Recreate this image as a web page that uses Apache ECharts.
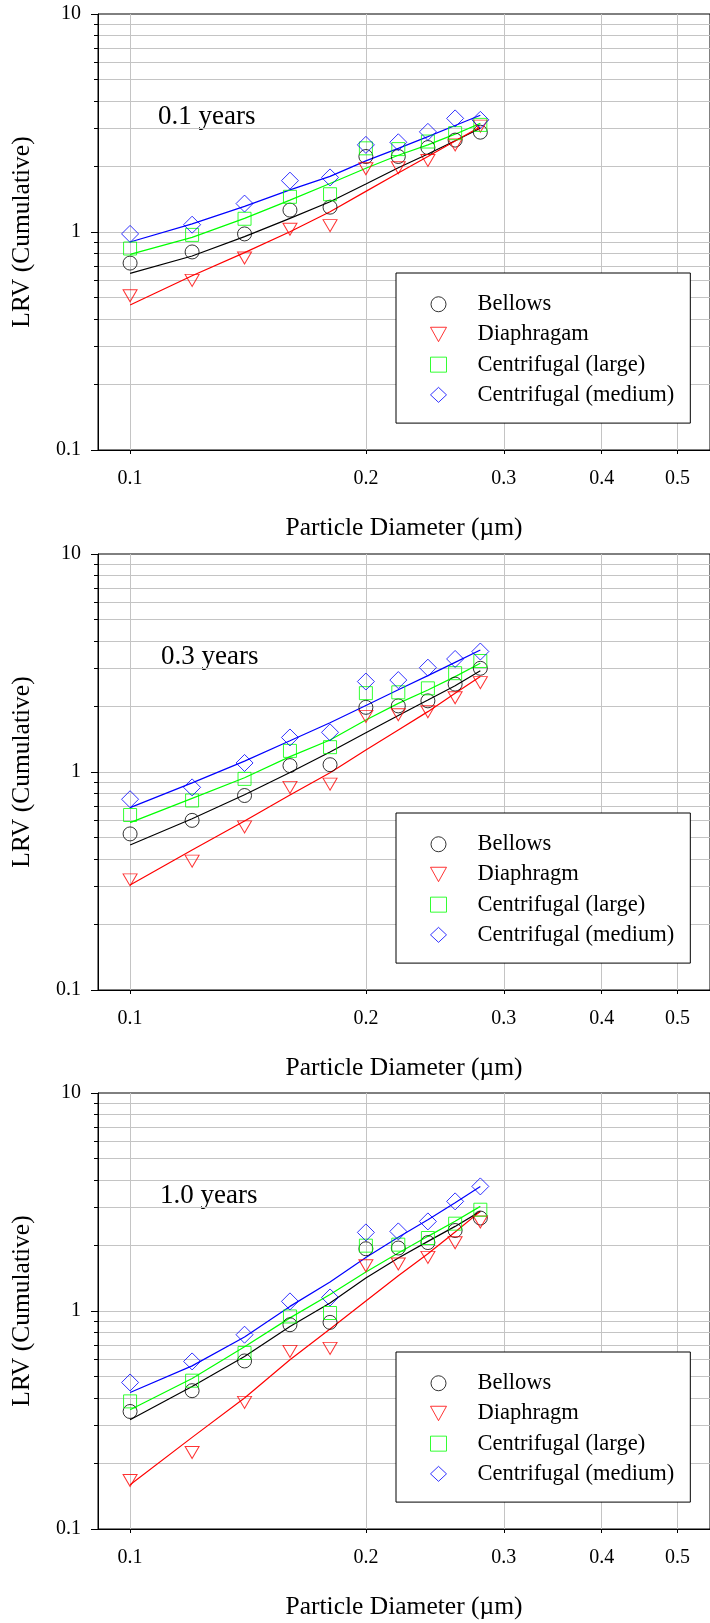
<!DOCTYPE html>
<html>
<head>
<meta charset="utf-8">
<script src="https://cdn.jsdelivr.net/npm/echarts@6/dist/echarts.min.js"></script>
<style>
  html, body { margin: 0; padding: 0; background: #ffffff; }
  #chart { width: 710px; height: 1623px; }
</style>
</head>
<body>
<div id="chart"></div>
<script>
// Particle diameters (µm) sampled in every panel
const diameters = [0.10, 0.12, 0.14, 0.16, 0.18, 0.20, 0.22, 0.24, 0.26, 0.28];

// Axis tick values
const xTickValues = [0.1, 0.2, 0.3, 0.4, 0.5];
const yMajorValues = [0.1, 1, 10];
const yGridValues = [0.2, 0.3, 0.4, 0.5, 0.6, 0.7, 0.8, 0.9, 1, 2, 3, 4, 5, 6, 7, 8, 9];

// Panel captions and legend entries
const panelLabels = ['0.1 years', '0.3 years', '1.0 years'];
const legendNames01 = ['Bellows', 'Diaphragam', 'Centrifugal (large)', 'Centrifugal (medium)'];
const legendNames = ['Bellows', 'Diaphragm', 'Centrifugal (large)', 'Centrifugal (medium)'];

// 0.1 years: measured cumulative LRV
const bellows01 = [0.72, 0.81, 0.98, 1.26, 1.30, 2.22, 2.22, 2.44, 2.64, 2.87];
const diaphragm01 = [0.51, 0.60, 0.76, 1.03, 1.07, 1.95, 1.97, 2.13, 2.51, 3.06];
const large01 = [0.84, 0.97, 1.15, 1.45, 1.49, 2.42, 2.40, 2.60, 2.84, 3.10];
const medium01 = [0.98, 1.08, 1.35, 1.72, 1.78, 2.51, 2.58, 2.88, 3.32, 3.27];
// 0.1 years: fitted curves
const bellowsFit01 = [0.646, 0.776, 0.952, 1.155, 1.377, 1.66, 1.97, 2.28, 2.62, 2.99];
const diaphragmFit01 = [0.4625, 0.630, 0.804, 1.003, 1.239, 1.536, 1.865, 2.218, 2.616, 3.04];
const largeFit01 = [0.79, 0.945, 1.155, 1.40, 1.67, 1.96, 2.25, 2.51, 2.81, 3.15];
const mediumFit01 = [0.90, 1.09, 1.31, 1.56, 1.80, 2.12, 2.42, 2.74, 3.08, 3.43];

// 0.3 years: measured cumulative LRV
const bellows03 = [0.52, 0.60, 0.78, 1.07, 1.08, 1.98, 2.01, 2.12, 2.53, 2.99];
const diaphragm03 = [0.32, 0.39, 0.56, 0.85, 0.88, 1.80, 1.83, 1.89, 2.19, 2.57];
const large03 = [0.635, 0.74, 0.93, 1.25, 1.30, 2.30, 2.32, 2.42, 2.84, 3.23];
const medium03 = [0.75, 0.85, 1.10, 1.44, 1.52, 2.60, 2.64, 3.01, 3.30, 3.57];
// 0.3 years: fitted curves
const bellowsFit03 = [0.4625, 0.610, 0.787, 0.995, 1.236, 1.514, 1.816, 2.138, 2.489, 2.915];
const diaphragmFit03 = [0.3032, 0.4387, 0.5958, 0.784, 0.993, 1.262, 1.559, 1.892, 2.296, 2.739];
const largeFit03 = [0.5855, 0.757, 0.941, 1.176, 1.402, 1.732, 2.065, 2.377, 2.739, 3.152];
const mediumFit03 = [0.686, 0.891, 1.122, 1.390, 1.683, 2.018, 2.382, 2.767, 3.184, 3.63];

// 1.0 years: measured cumulative LRV
const bellows10 = [0.346, 0.431, 0.59, 0.865, 0.887, 1.93, 1.945, 2.06, 2.34, 2.67];
const diaphragm10 = [0.167, 0.2245, 0.381, 0.653, 0.674, 1.614, 1.643, 1.762, 2.056, 2.56];
const large10 = [0.385, 0.479, 0.642, 0.944, 0.979, 1.994, 2.015, 2.162, 2.515, 2.915];
const medium10 = [0.47, 0.587, 0.7785, 1.107, 1.154, 2.294, 2.318, 2.576, 3.183, 3.728];
// 1.0 years: fitted curves
const bellowsFit10 = [0.3172, 0.4509, 0.619, 0.8499, 1.088, 1.417, 1.75, 2.086, 2.444, 2.864];
const diaphragmFit10 = [0.1596, 0.2632, 0.399, 0.5976, 0.8268, 1.111, 1.452, 1.832, 2.304, 2.864];
const largeFit10 = [0.3525, 0.49, 0.685, 0.93, 1.19, 1.51, 1.845, 2.20, 2.58, 3.02];
const mediumFit10 = [0.423, 0.56, 0.76, 1.05, 1.36, 1.76, 2.18, 2.62, 3.14, 3.728];

const panels = [
  { label: panelLabels[0], names: legendNames01,
    measured: [bellows01, diaphragm01, large01, medium01],
    fits: [bellowsFit01, diaphragmFit01, largeFit01, mediumFit01] },
  { label: panelLabels[1], names: legendNames,
    measured: [bellows03, diaphragm03, large03, medium03],
    fits: [bellowsFit03, diaphragmFit03, largeFit03, mediumFit03] },
  { label: panelLabels[2], names: legendNames,
    measured: [bellows10, diaphragm10, large10, medium10],
    fits: [bellowsFit10, diaphragmFit10, largeFit10, mediumFit10] }
];

// Layout
const FONT = '"Liberation Serif", "Times New Roman", serif';
const GRID_LEFT = 98, GRID_WIDTH = 624, GRID_HEIGHT = 436;
const panelTops = [14, 554, 1093];
const labelLefts = [158, 161, 160];
const GRID_GRAY = '#c4c4c4';
const DOWN_TRIANGLE = 'path://M0,0 L10,0 L5,9 Z';

// Marker styles: open circle, open down-triangle, open square, open diamond
const markerStyles = [
  { symbol: 'circle', size: 14, rotate: 0, color: '#000000' },
  { symbol: 'triangle', size: [14, 12], rotate: 180, color: '#ff0000' },
  { symbol: 'rect', size: 13, rotate: 0, color: '#00ff00' },
  { symbol: 'diamond', size: 17, rotate: 0, color: '#0000ff' }
];

const fmt = v => String(+(+v).toPrecision(4));

const grids = [], xAxes = [], yAxes = [], series = [], legends = [], graphics = [];

panels.forEach((p, i) => {
  const top = panelTops[i];
  grids.push({
    left: GRID_LEFT, top: top, width: GRID_WIDTH, height: GRID_HEIGHT,
    show: true, borderColor: '#000000', borderWidth: 1, backgroundColor: 'transparent'
  });

  xAxes.push({
    type: 'log', logBase: 10, gridIndex: i, min: 0.091, max: 0.55,
    axisLine: { show: true, onZero: false, lineStyle: { color: '#000000', width: 1 } },
    axisTick: { show: true, customValues: xTickValues, length: 4, lineStyle: { color: '#000000', width: 1 } },
    axisLabel: { show: true, customValues: xTickValues, margin: 19, fontSize: 20, fontFamily: FONT, color: '#000000', formatter: fmt },
    splitLine: { show: true, lineStyle: { color: GRID_GRAY, width: 1 } },
    minorTick: { show: false }, minorSplitLine: { show: false },
    name: 'Particle Diameter (\u00b5m)', nameLocation: 'middle', nameGap: 65,
    nameTextStyle: { fontSize: 25.5, fontFamily: FONT, color: '#000000' }
  });

  // Gridlines, minor ticks and tick labels
  yAxes.push({
    type: 'log', logBase: 10, gridIndex: i, min: 0.1, max: 10, position: 'left',
    axisLine: { show: true, onZero: false, lineStyle: { color: '#000000', width: 1 } },
    axisTick: { show: true, customValues: yGridValues, length: 4, lineStyle: { color: '#000000', width: 1 } },
    axisLabel: { show: true, customValues: yMajorValues, margin: 17, fontSize: 20, fontFamily: FONT, color: '#000000', formatter: fmt },
    splitLine: { show: true, lineStyle: { color: GRID_GRAY, width: 1 } },
    minorTick: { show: false }, minorSplitLine: { show: false },
    name: 'LRV (Cumulative)', nameLocation: 'middle', nameGap: 63,
    nameTextStyle: { fontSize: 25.5, fontFamily: FONT, color: '#000000' }
  });
  // Longer ticks at the decades
  yAxes.push({
    type: 'log', logBase: 10, gridIndex: i, min: 0.1, max: 10, position: 'left', offset: 0,
    axisLine: { show: false },
    axisTick: { show: true, customValues: yMajorValues, length: 7, lineStyle: { color: '#000000', width: 1 } },
    axisLabel: { show: false },
    splitLine: { show: false }
  });

  p.measured.forEach((vals, k) => {
    const st = markerStyles[k];
    series.push({
      type: 'line', name: p.names[k] + ' fit', xAxisIndex: i, yAxisIndex: 2 * i,
      data: diameters.map((d, j) => [d, p.fits[k][j]]),
      symbol: 'none', showSymbol: false, silent: true, z: 2,
      lineStyle: { color: st.color, width: 1.2 }
    });
    series.push({
      type: 'scatter', name: p.names[k], xAxisIndex: i, yAxisIndex: 2 * i,
      data: diameters.map((d, j) => [d, vals[j]]),
      symbol: st.symbol, symbolSize: st.size, symbolRotate: st.rotate, z: 3,
      itemStyle: { color: 'rgba(0,0,0,0)', borderColor: st.color, borderWidth: 1 }
    });
  });

  legends.push({
    data: p.names.map((n, k) => (k === 1 ? { name: n, icon: DOWN_TRIANGLE } : { name: n })),
    orient: 'vertical', left: 396, top: top + 259,
    padding: [19.75, 16, 16.75, 34], itemGap: 7.2, itemWidth: 16, itemHeight: 15,
    backgroundColor: '#ffffff', borderColor: '#000000', borderWidth: 1, borderRadius: 0,
    selectedMode: false,
    itemStyle: { borderWidth: 1 },
    textStyle: { fontSize: 22.5, fontFamily: FONT, color: '#000000', padding: [0, 0, 0, 26] }
  });

  graphics.push({
    type: 'text', x: labelLefts[i], y: top + 102.5, silent: true,
    style: { text: p.label, font: '27px ' + FONT, fill: '#000000', verticalAlign: 'middle' }
  });
});

const chart = echarts.init(document.getElementById('chart'), null, { renderer: 'canvas' });
chart.setOption({
  animation: false,
  backgroundColor: '#ffffff',
  grid: grids,
  xAxis: xAxes,
  yAxis: yAxes,
  legend: legends,
  series: series,
  graphic: graphics
});
</script>
</body>
</html>
